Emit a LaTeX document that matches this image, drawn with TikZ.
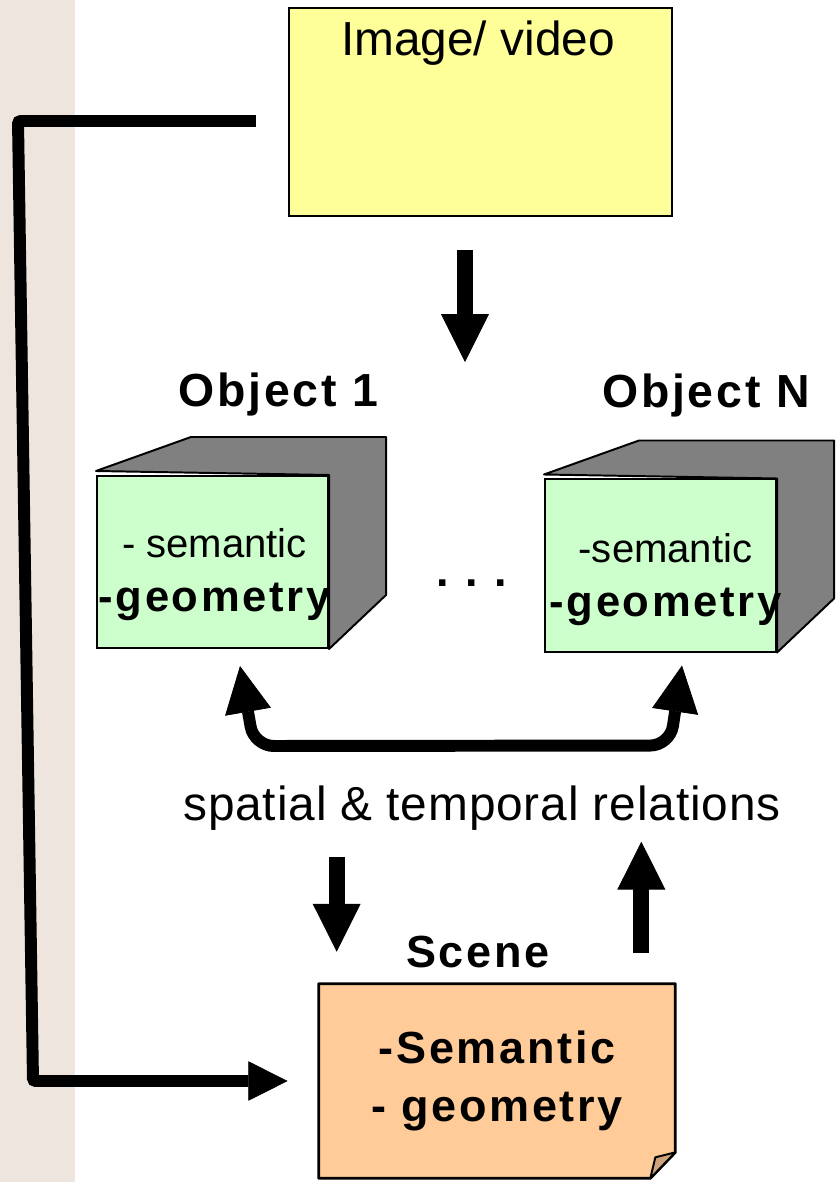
\documentclass[tikz,border=0pt]{standalone}
\usepackage{fontspec}
\setmainfont{Liberation Sans}
\newfontfamily\spaced[LetterSpace=6]{Liberation Sans}
\newfontfamily\lightspaced[LetterSpace=1.8]{Liberation Sans}
\usetikzlibrary{calc,arrows.meta,backgrounds}
\definecolor{notepad}{RGB}{255,255,153}
\definecolor{facegreen}{RGB}{204,255,204}
\definecolor{cubegray}{RGB}{128,128,128}
\definecolor{scenepeach}{RGB}{255,204,153}
\definecolor{foldpeach}{RGB}{204,163,122}
\definecolor{margin}{RGB}{239,229,223}
\newcommand{\fs}[2]{\fontsize{#1}{#2}\selectfont}
% gray top and side of a cube, hung on the front face node
\newcommand{\cubeback}[1]{%
  \filldraw[back] ($(#1.north west)+(0,-4)$) -- ($(#1.north west)+(95,-38)$)
    -- ($(#1.north east)+(57,-38)$) -- ($(#1.south east)+(57,-54)$)
    -- (#1.south east) -- (#1.north east) -- cycle;}
\tikzset{
  imgbox/.style={draw,line width=1.4pt,fill=notepad,inner sep=0pt,
                 minimum width=9.575cm,minimum height=5.2cm},
  face/.style={draw,line width=1.4pt,fill=facegreen,inner sep=0pt,
               minimum width=5.775cm,minimum height=4.3cm},
  back/.style={draw,line width=1.4pt,fill=cubegray,line join=round},
  facetext/.style={align=center,inner sep=0pt,font=\fs{28.5}{38.4}},
  boldlabel/.style={anchor=base,inner sep=0pt,font=\spaced\bfseries\fs{33}{40}},
  note/.style={draw,line width=2pt,fill=scenepeach,line join=round},
  fold/.style={draw,line width=1.4pt,fill=foldpeach,line join=round},
  blockarrow/.style={line width=11.4pt,
                     -{Triangle[length=34pt,width=34pt,line width=0.5pt]}},
  feed/.style={line width=8.5pt,rounded corners=2pt,
               -{Triangle[length=28pt,width=28pt,line width=0.5pt]}},
  relarrow/.style={line width=8.5pt,rounded corners=14pt,
                   {Triangle[length=33pt,width=33pt,line width=0.5pt]}-{Triangle[length=33pt,width=33pt,line width=0.5pt]}}
}
\begin{document}
\begin{tikzpicture}[x=0.025cm,y=-0.025cm]
  \useasboundingbox (0,0) rectangle (837,1182);
  \fill[margin] (0,0) rectangle (75,1182);
  % input
  \node[imgbox] (img) at (480.5,112) {};
  \node[anchor=base,inner sep=0pt,font=\fs{34}{40}] (imgtext) at ($(img.north)+(-2.5,49)$) {Image/ video};
  \draw[blockarrow] ($(img.south)+(-15.5,33)$) -- ($(img.south)+(-15.5,145)$);
  % objects
  \node[face] (o1) at (212.5,562) {};
  \node[face] (oN) at (660.5,565.5) {};
  \begin{scope}[on background layer]
    \cubeback{o1}
    \cubeback{oN}
  \end{scope}
  \node[facetext] (o1txt) at ($(o1.center)+(2,13)$) {- semantic\\{\spaced\bfseries\fs{31}{38.4}-geometry}};
  \node[facetext] (oNtxt) at ($(oN.center)+(5,14)$) {-semantic\\{\spaced\bfseries\fs{31}{38.4}-geometry}};
  \node[boldlabel] (o1lab) at ($(o1.north)+(66,-68)$) {Object 1};
  \node[boldlabel] (oNlab) at ($(oN.north)+(45.5,-71)$) {Object N};
  \node[anchor=base,inner sep=0pt,font=\bfseries\fs{32}{40}] (dots) at (472,586) {. . .};
  \draw[relarrow] ($(o1.south)+(27.5,17)$) -- ($(o1.south)+(41.5,97)$)
    -- ($(oN.south)+(9.5,93)$) -- ($(oN.south)+(21.5,13)$);
  \node[anchor=base,inner sep=0pt,font=\lightspaced\fs{34}{40}] (rel) at (482,820) {spatial \& temporal relations};
  % scene
  \node[align=center,inner sep=0pt,minimum width=8.9cm,minimum height=4.85cm,
        font=\spaced\bfseries\fs{32}{41}] (scene) at (497,1081) {-Semantic\\- geometry};
  \begin{scope}[on background layer]
    \filldraw[note] (scene.north west) -- (scene.north east) -- ($(scene.south east)+(0,-26)$)
      -- ($(scene.south east)+(-25,0)$) -- (scene.south west) -- cycle;
    \filldraw[fold] ($(scene.south east)+(-25,0)$) -- ($(scene.south east)+(-20,-21)$)
      -- ($(scene.south east)+(0,-26)$) -- cycle;
  \end{scope}
  \node[boldlabel,font=\spaced\bfseries\fs{32}{40}] (scenelab) at ($(scene.north)+(-19,-16)$) {Scene};
  \draw[blockarrow] ($(scene.north west)+(18,-127)$) -- ($(scene.north west)+(18,-32)$);
  \draw[blockarrow] ($(scene.north east)+(-34,-31)$) -- ($(scene.north east)+(-34,-142)$);
  % direct path from the input to the scene
  \draw[feed] ($(img.west)+(-32,9)$) -- (18,121) -- (33,1081) -- ($(scene.west)+(-31,0)$);
\end{tikzpicture}
\end{document}
